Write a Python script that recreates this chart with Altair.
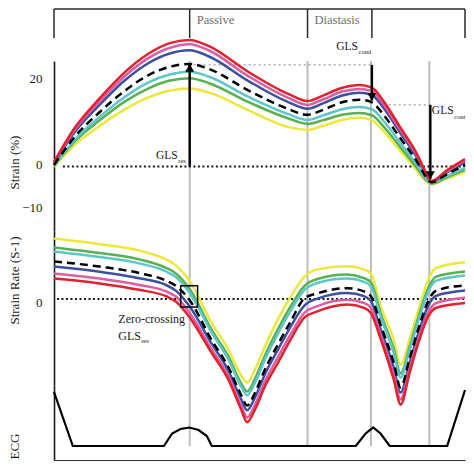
import altair as alt
import pandas as pd

FONT = "Liberation Serif"
INK = "#1a1a1a"

# ---------------- data ----------------
# horizontal position: cardiac-cycle time, arbitrary units 0..415
phase_bounds = [0, 137, 256, 321, 415]
phase_label_t = [137, 256]
phase_labels = ["Passive", "Diastasis"]
event_t = [137, 256, 320, 379]

series_names = ["yellow", "green", "cyan", "blue", "pink", "red"]
series_colors = ["#ece83a", "#57b150", "#5ec6ca", "#3c4fa2", "#dc5ea0", "#e3202d"]

# Strain (%)
strain_t = [0, 21, 46, 71, 96, 116, 137, 156, 196, 236, 256, 271, 291, 308, 321, 333, 349, 366, 376, 381, 396, 415]
strain_red = [1.05, 9.0, 15.8, 21.8, 26.3, 28.6, 29.4, 28.0, 22.0, 16.9, 15.2, 16.4, 18.3, 18.9, 18.3, 15.1, 9.3, 3.1, -1.6, -3.4, -1.0, 1.7]
strain_pink = [0.8, 8.5, 15.1, 20.9, 25.3, 27.5, 28.4, 27.0, 21.0, 16.0, 14.3, 15.5, 17.4, 18.0, 17.5, 14.3, 8.7, 2.7, -1.8, -3.4, -1.3, 1.4]
strain_blue = [0.6, 8.0, 14.3, 19.9, 24.1, 26.2, 27.0, 25.6, 19.9, 15.0, 13.4, 14.6, 16.5, 17.1, 16.6, 13.5, 8.0, 2.2, -2.0, -3.5, -1.5, 1.0]
strain_mean = [0.35, 6.9, 12.6, 17.5, 21.3, 23.1, 23.8, 22.7, 17.7, 13.4, 12.0, 13.1, 14.9, 15.5, 14.9, 11.9, 6.8, 1.3, -2.5, -3.7, -1.9, 0.4]
strain_cyan = [0.1, 6.2, 11.5, 16.1, 19.6, 21.3, 22.0, 20.9, 16.2, 12.2, 10.8, 11.8, 13.3, 13.8, 13.3, 10.5, 5.7, 0.5, -2.9, -3.8, -2.3, -0.3]
strain_green = [0.1, 5.8, 10.7, 15.0, 18.2, 19.9, 20.5, 19.4, 15.0, 11.2, 9.9, 10.7, 12.0, 12.4, 11.9, 9.2, 4.7, -0.2, -3.2, -4.0, -2.6, -0.8]
strain_yellow = [-0.1, 5.0, 9.4, 13.2, 16.1, 17.6, 18.1, 17.2, 13.1, 9.2, 8.5, 9.4, 10.8, 11.3, 10.7, 8.1, 3.8, -0.8, -3.5, -4.1, -2.9, -1.3]

# Strain rate (1/s)
rate_t = [0, 46, 86, 113, 123, 137, 159, 176, 189, 195, 203, 213, 226, 239, 253, 266, 296, 313, 320, 330, 343, 350, 359, 369, 378, 386, 415]
rate_yellow = [1.51, 1.37, 1.21, 0.99, 0.84, 0.45, -0.59, -1.26, -1.91, -2.09, -1.76, -1.19, -0.51, 0.06, 0.56, 0.74, 0.82, 0.74, 0.64, -0.19, -1.01, -1.64, -1.01, -0.19, 0.49, 0.78, 0.92]
rate_green = [1.29, 1.15, 0.99, 0.78, 0.64, 0.25, -0.76, -1.43, -2.11, -2.31, -1.99, -1.41, -0.76, -0.18, 0.33, 0.50, 0.61, 0.52, 0.42, -0.37, -1.24, -1.86, -1.20, -0.37, 0.28, 0.56, 0.69]
rate_cyan = [1.19, 1.05, 0.89, 0.69, 0.55, 0.15, -0.83, -1.51, -2.19, -2.41, -2.09, -1.51, -0.87, -0.29, 0.23, 0.40, 0.51, 0.43, 0.32, -0.46, -1.34, -1.96, -1.28, -0.46, 0.19, 0.46, 0.59]
rate_mean = [0.94, 0.81, 0.65, 0.46, 0.33, -0.03, -1.02, -1.70, -2.40, -2.66, -2.34, -1.76, -1.14, -0.56, 0.02, 0.14, 0.27, 0.19, 0.07, -0.66, -1.59, -2.21, -1.49, -0.66, -0.04, 0.21, 0.34]
rate_blue = [0.81, 0.68, 0.52, 0.35, 0.21, -0.19, -1.11, -1.79, -2.51, -2.78, -2.46, -1.88, -1.27, -0.69, -0.16, 0.01, 0.15, 0.07, -0.05, -0.77, -1.71, -2.34, -1.60, -0.77, -0.16, 0.08, 0.21]
rate_pink = [0.64, 0.51, 0.35, 0.19, 0.06, -0.35, -1.25, -1.92, -2.66, -2.96, -2.64, -2.06, -1.46, -0.88, -0.34, -0.18, -0.02, -0.10, -0.22, -0.91, -1.89, -2.51, -1.74, -0.91, -0.32, -0.10, 0.03]
rate_red = [0.51, 0.39, 0.23, 0.07, -0.06, -0.46, -1.34, -2.01, -2.76, -3.08, -2.76, -2.18, -1.60, -1.01, -0.46, -0.31, -0.14, -0.22, -0.35, -1.01, -2.01, -2.64, -1.85, -1.01, -0.43, -0.22, -0.10]

# ECG
ecg_t = [0, 19, 111, 119.3, 127.7, 136.7, 146, 154.3, 159.3, 304.7, 314.7, 322.3, 329.7, 339, 397, 415]
ecg_v = [1.08, 0, 0, 0.25, 0.34, 0.37, 0.32, 0.2, 0, 0, 0.25, 0.37, 0.25, 0, 0, 1.12]

# annotations on the strain panel
gls_arrow_t = [137, 321, 380]
gls_arrow_from = [0, 23.6, 14.3]
gls_arrow_to = [23.8, 15.3, -2.9]
gls_guide_t0 = [141, 338]
gls_guide_t1 = [320, 380]
gls_guide_v = [23.6, 14.3]
gls_text_t = [103, 285, 381.5]
gls_text_v = [2.44, 27.8, 12.9]
gls_sub = ["res", "cond", "cont"]
gls_sub_t = [125.5, 307.5, 404]
gls_sub_v = [1.28, 26.6, 11.5]

# annotations on the strain-rate panel
zc_box_t = [128, 145]
zc_box_v = [-0.2, 0.33]
zc_text = ["Zero-crossing", "GLS"]
zc_text_t = [65, 65]
zc_text_v = [-0.49, -0.93]
zc_sub = ["res"]
zc_sub_t = [88]
zc_sub_v = [-1.06]

# ---------------- tables ----------------
def long_table(t, d):
    rows = []
    for name, vals in d.items():
        for ti, v in zip(t, vals):
            rows.append({"series": name, "t": ti, "v": v})
    return pd.DataFrame(rows)

strain_df = long_table(strain_t, {"yellow": strain_yellow, "green": strain_green, "cyan": strain_cyan,
                                  "blue": strain_blue, "pink": strain_pink, "red": strain_red})
strain_mean_df = pd.DataFrame({"t": strain_t, "v": strain_mean})
rate_df = long_table(rate_t, {"yellow": rate_yellow, "green": rate_green, "cyan": rate_cyan,
                              "blue": rate_blue, "pink": rate_pink, "red": rate_red})
rate_mean_df = pd.DataFrame({"t": rate_t, "v": rate_mean})
ecg_df = pd.DataFrame({"t": ecg_t, "v": ecg_v})
bounds_df = pd.DataFrame({"t": phase_bounds})
top_df = pd.DataFrame({"t0": [phase_bounds[0]], "t1": [phase_bounds[-1]]})
plabel_df = pd.DataFrame({"t": phase_label_t, "label": phase_labels})

arrows_df = pd.DataFrame({"t": gls_arrow_t, "v0": gls_arrow_from, "v1": gls_arrow_to})
heads_up_df = arrows_df.iloc[[0]]
heads_down_df = arrows_df.iloc[[1, 2]]
guides_df = pd.DataFrame({"t0": gls_guide_t0, "t1": gls_guide_t1, "v": gls_guide_v})
gls_text_df = pd.DataFrame({"t": gls_text_t, "v": gls_text_v, "label": ["GLS"] * 3})
gls_sub_df = pd.DataFrame({"t": gls_sub_t, "v": gls_sub_v, "label": gls_sub})
zero_strain_df = pd.DataFrame({"t0": [9], "t1": [415], "v": [0]})
zero_rate_df = pd.DataFrame({"t0": [3], "t1": [415], "v": [0]})
box_df = pd.DataFrame({"t0": [zc_box_t[0]], "t1": [zc_box_t[1]], "v0": [zc_box_v[0]], "v1": [zc_box_v[1]]})
zc_text_df = pd.DataFrame({"t": zc_text_t, "v": zc_text_v, "label": zc_text})
zc_sub_df = pd.DataFrame({"t": zc_sub_t, "v": zc_sub_v, "label": zc_sub})
strain_event_df = pd.DataFrame({"t": event_t, "top": [24.5] * 4, "bot": [-15] * 4})
rate_event_df = pd.DataFrame({"t": event_t, "top": [1.7] * 4, "bot": [-2.15] * 4})
ecg_event_df = pd.DataFrame({"t": event_t, "top": [1.22] * 4, "base": [0] * 4})

# ---------------- scales / axes ----------------
W, H = 411, 452
xs = alt.Scale(domain=[0, 415], nice=False, zero=False)
# three stacked bands of one plot area (pixel bands top->bottom: 53-223, 223-377, 377-452)
ys_strain = alt.Scale(domain=[-15, 24.5], range=[223, 53], nice=False, zero=False)
ys_rate = alt.Scale(domain=[-2.15, 1.7], range=[377, 223], nice=False, zero=False)
ys_ecg = alt.Scale(domain=[-0.28, 1.22], range=[452, 377], nice=False, zero=False)
color_scale = alt.Scale(domain=series_names, range=series_colors)


def yaxis(values, title, title_y, label_offset=0):
    return alt.Axis(orient="left", values=values, title=title, titleX=-46, titleY=title_y, titleAngle=270,
                    titleBaseline="top", titleAlign="center", labelOffset=label_offset,
                    ticks=False, grid=False, domain=True, domainColor=INK, domainWidth=1.6,
                    labelPadding=12, labelFont=FONT, labelFontSize=13, labelColor=INK,
                    titleFont=FONT, titleFontSize=13, titleFontWeight="normal", titleColor=INK)


ax_strain = yaxis([-10, 0, 20], "Strain (%)", 154, -2)
ax_rate = yaxis([0], "Strain Rate (S-1)", 272, 3)
ax_ecg = yaxis([], "ECG", 438)
ax_x = alt.Axis(orient="bottom", labels=False, ticks=False, grid=False, title=None, domain=True,
                domainColor="#333", domainWidth=1.2)


def X(f="t"):
    return alt.X(f"{f}:Q", scale=xs, axis=ax_x)


def Ys(f):
    return alt.Y(f"{f}:Q", scale=ys_strain, axis=ax_strain)


def Yr(f):
    return alt.Y(f"{f}:Q", scale=ys_rate, axis=ax_rate)


def Ye(f):
    return alt.Y(f"{f}:Q", scale=ys_ecg, axis=ax_ecg)


rule_gray = dict(color="#bcbcbc", strokeWidth=2)
text_main = dict(align="left", baseline="middle", font=FONT, fontSize=12, color=INK)
text_gls = dict(align="left", baseline="middle", font=FONT, fontSize=11.5, color=INK)
text_sub = dict(align="left", baseline="middle", font=FONT, fontSize=6.5, color=INK)

# ---------------- header (phases) ----------------
header = alt.layer(
    alt.Chart(bounds_df).mark_rule(color="#2a2a2a", strokeWidth=1.5).encode(
        x=X(), y=alt.value(1), y2=alt.value(30)),
    alt.Chart(top_df).mark_rule(color="#2a2a2a", strokeWidth=1.5).encode(
        x=X("t0"), x2="t1:Q", y=alt.value(1)),
    alt.Chart(plabel_df).mark_text(align="left", baseline="middle", font=FONT, fontSize=12.5,
                                   color="#6f6f6f", dx=7).encode(
        x=X(), y=alt.value(12), text="label:N"),
)

# ---------------- strain band ----------------
strain = alt.layer(
    alt.Chart(strain_event_df).mark_rule(**rule_gray).encode(x=X(), y=Ys("top"), y2="bot:Q"),
    alt.Chart(guides_df).mark_rule(color="#9a9a9a", strokeWidth=1.4, strokeDash=[2, 3]).encode(
        x=X("t0"), x2="t1:Q", y=Ys("v")),
    alt.Chart(zero_strain_df).mark_rule(color=INK, strokeWidth=2, strokeDash=[2, 2.5]).encode(
        x=X("t0"), x2="t1:Q", y=Ys("v")),
    alt.Chart(strain_df).mark_line(strokeWidth=2.5, interpolate="monotone").encode(
        x=X(), y=Ys("v"), color=alt.Color("series:N", scale=color_scale, legend=None)),
    alt.Chart(strain_mean_df).mark_line(strokeWidth=2.5, interpolate="monotone", color="black",
                                        strokeDash=[8, 5]).encode(x=X(), y=Ys("v")),
    alt.Chart(arrows_df).mark_rule(color="black", strokeWidth=2.4).encode(
        x=X(), y=Ys("v0"), y2="v1:Q"),
    alt.Chart(heads_up_df).mark_point(shape="M0,0L-1,1.7L1,1.7Z", size=81, filled=True, opacity=1,
                                      color="black").encode(x=X(), y=Ys("v1")),
    alt.Chart(heads_down_df).mark_point(shape="M0,0L-1,-1.7L1,-1.7Z", size=81, filled=True, opacity=1,
                                        color="black").encode(x=X(), y=Ys("v1")),
    alt.Chart(gls_text_df).mark_text(**text_gls).encode(x=X(), y=Ys("v"), text="label:N"),
    alt.Chart(gls_sub_df).mark_text(**text_sub).encode(x=X(), y=Ys("v"), text="label:N"),
)

# ---------------- strain-rate band ----------------
rate = alt.layer(
    alt.Chart(rate_event_df).mark_rule(**rule_gray).encode(x=X(), y=Yr("top"), y2="bot:Q"),
    alt.Chart(zero_rate_df).mark_rule(color=INK, strokeWidth=2, strokeDash=[2, 2.5]).encode(
        x=X("t0"), x2="t1:Q", y=Yr("v")),
    alt.Chart(rate_df).mark_line(strokeWidth=2.5, interpolate="monotone").encode(
        x=X(), y=Yr("v"), color=alt.Color("series:N", scale=color_scale, legend=None)),
    alt.Chart(rate_mean_df).mark_line(strokeWidth=2.5, interpolate="monotone", color="black",
                                      strokeDash=[8, 5]).encode(x=X(), y=Yr("v")),
    alt.Chart(box_df).mark_rect(fillOpacity=0, stroke="black", strokeWidth=1.4).encode(
        x=X("t0"), x2="t1:Q", y=Yr("v0"), y2="v1:Q"),
    alt.Chart(zc_text_df).mark_text(**text_main).encode(x=X(), y=Yr("v"), text="label:N"),
    alt.Chart(zc_sub_df).mark_text(**text_sub).encode(x=X(), y=Yr("v"), text="label:N"),
)

# ---------------- ECG band ----------------
ecg = alt.layer(
    alt.Chart(ecg_event_df).mark_rule(**rule_gray).encode(x=X(), y=Ye("top"), y2="base:Q"),
    alt.Chart(ecg_df).mark_line(color="black", strokeWidth=2.2).encode(x=X(), y=Ye("v")),
)

chart = alt.layer(header, strain, rate, ecg).resolve_scale(y="independent").resolve_axis(
    y="independent").properties(
    width=W, height=H,
    autosize=alt.AutoSizeParams(type="none"),
    padding={"left": 46, "top": 0, "right": 1, "bottom": 2},
).configure_view(stroke=None)

chart.save("out.html", embed_options={"renderer": "svg", "actions": False})
